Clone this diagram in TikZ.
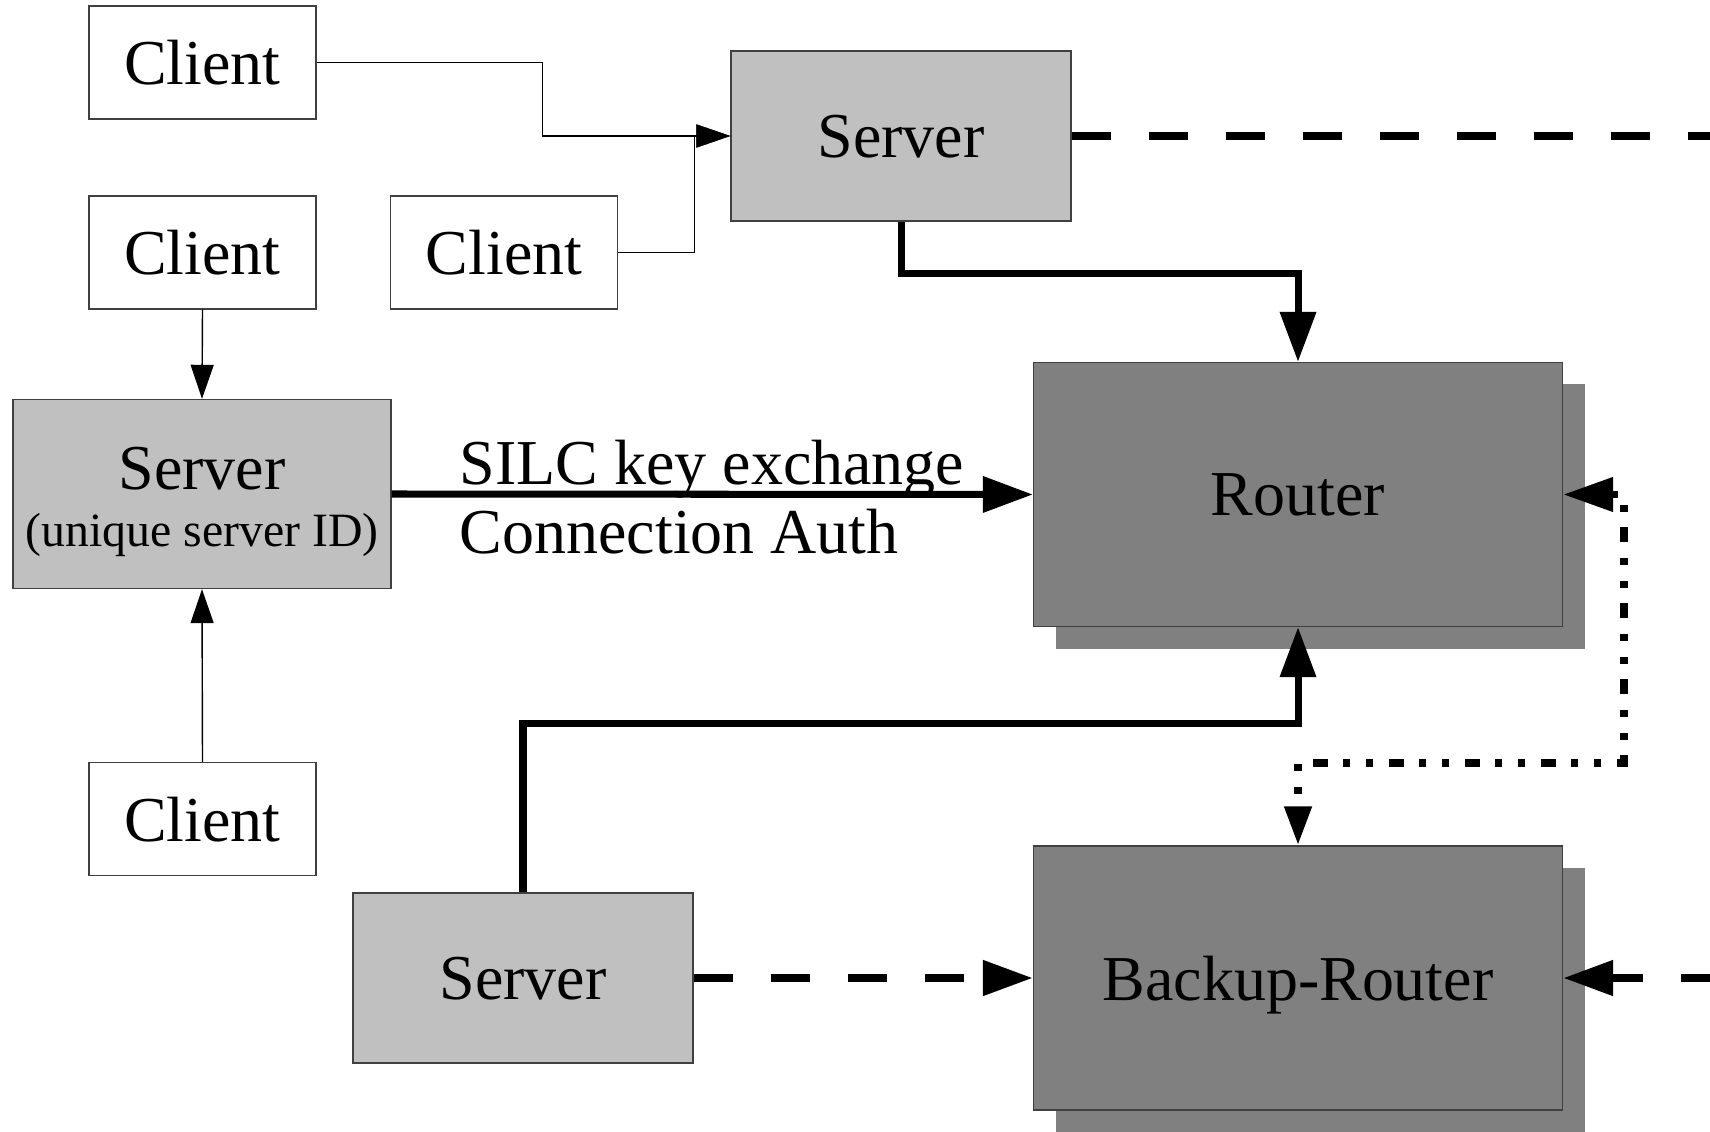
\documentclass[tikz,border=0pt]{standalone}
\usepackage{fontspec}
\setmainfont{Liberation Serif}
\usetikzlibrary{arrows.meta,shadows}
\definecolor{srvgray}{RGB}{192,192,192}
\definecolor{rtgray}{RGB}{128,128,128}

\begin{document}
\begin{tikzpicture}[
  font=\fontsize{18.2}{16.4}\selectfont,
  box/.style={draw=black!75, line width=0.4pt, inner sep=0pt, text depth=0pt},
  client/.style={box, fill=white, minimum width=2.27cm, minimum height=1.13cm},
  server/.style={box, fill=srvgray, minimum width=3.4cm, minimum height=1.7cm},
  router/.style={box, fill=rtgray, minimum width=5.29cm, minimum height=2.64cm,
    drop shadow={shadow xshift=0.22cm, shadow yshift=-0.22cm, fill=rtgray, opacity=1}},
  thinarrow/.style={line width=0.4pt, -{Triangle[length=0.34cm,width=0.23cm]}},
  fatarrow/.style={line width=2pt, -{Triangle[length=0.5cm,width=0.35cm]}},
  dashline/.style={line width=2.3pt, dash pattern=on 0.39cm off 0.38cm},
  dasharrow/.style={dashline, -{Triangle[length=0.5cm,width=0.34cm]}},
  dotline/.style={line width=2.2pt,
    dash pattern=on 0.07cm off 0.16cm on 0.07cm off 0.15cm on 0.15cm off 0.16cm}
]
  \useasboundingbox (0,0) rectangle (17.1,11.31);

  % clients
  \node[client] (cl1) at (2.025,10.685) {Client};
  \node[client] (cl2) at (2.025,8.785) {Client};
  \node[client] (cl3) at (5.04,8.785) {Client};
  \node[client] (cl4) at (2.025,3.12) {Client};

  % servers
  \node[server] (srvtop) at (9.01,9.95) {Server};
  \node[server, minimum width=3.78cm, minimum height=1.89cm, align=center] (srvleft) at (2.02,6.37)
    {\rule{0pt}{0.48cm}Server\\{\fontsize{13.6}{16.4}\selectfont (unique server ID)}};
  \node[server] (srvbot) at (5.23,1.53) {Server};

  % routers
  \node[router] (router) at (12.98,6.365) {Router};
  \node[router] (backup) at (12.98,1.53) {Backup-Router};

  \coordinate (edgetop) at (17.2,9.95);
  \coordinate (edgebot) at (17.2,1.53);

  % client links
  \draw[thinarrow] (cl1.east) -- ++(2.26,0) |- (srvtop.west);
  \draw[thinarrow] (cl3.east) -- ++(0.76,0) |- (srvtop.west);
  \draw[thinarrow] (cl2.south) -- (srvleft.north);
  \draw[thinarrow] (cl4.north) -- (srvleft.south);

  % server to router
  \draw[fatarrow] (srvtop.south) -- ++(0,-0.52) -| (router.north);
  \draw[fatarrow] (srvleft.east) -- (router.west)
    node[pos=0.107, anchor=base west, inner sep=0pt, xshift=-0.04cm, yshift=0.1cm] (silc) {SILC key exchange}
    node[pos=0.107, anchor=base west, inner sep=0pt, xshift=-0.04cm, yshift=-0.59cm] (auth) {Connection Auth};
  \draw[fatarrow] (srvbot.north) -- ++(0,1.69) -| (router.south);

  % dashed links
  \draw[dashline] (srvtop.east) -- (edgetop);
  \draw[dasharrow] (srvbot.east) -- (backup.west);
  \draw[dasharrow] (edgebot) -- (backup.east);

  % router to backup
  \draw[dotline, {Triangle[length=0.5cm,width=0.33cm]}-{Triangle[length=0.39cm,width=0.26cm]}]
    (router.east) -- ++(0.605,0) -- ++(0,-2.685) -| (backup.north);
\end{tikzpicture}
\end{document}
